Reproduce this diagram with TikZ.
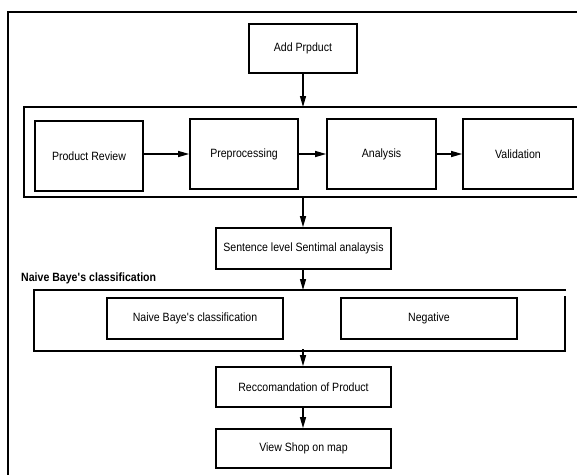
\documentclass[tikz,border=0pt]{standalone}
\usepackage{fontspec}
\setmainfont{Liberation Sans}[FakeStretch=0.88]
\usetikzlibrary{arrows.meta}
\begin{document}
\begin{tikzpicture}[x=1pt,y=-1pt,
  box/.style={draw,line width=1.7pt,inner sep=0pt,font=\fontsize{12}{14}\selectfont},
  arr/.style={-{Triangle[length=11pt,width=6pt]},line width=1.3pt},
  frame/.style={line width=1.6pt}]
\useasboundingbox (0,0) rectangle (577,474);
\clip (0,0) rectangle (577,474);
% outer frame
\draw[line width=1.4pt] (8,490) -- (8,12) -- (600,12);
% group frames
\draw[frame] (600,107) -- (24,107) -- (24,197) -- (600,197);
\draw[frame] (566,290) -- (34,290) -- (34,351) -- (565,351) -- (565,296);
% nodes
\node[box,minimum width=108pt,minimum height=49pt] (add) at (303,48.5) {Add Prpduct};
\node[box,minimum width=108pt,minimum height=70pt] (pr) at (89,156) {Product Review};
\node[box,minimum width=108pt,minimum height=70pt] (pre) at (244,154) {Preprocessing};
\node[box,minimum width=109pt,minimum height=70pt] (ana) at (381.5,154) {Analysis};
\node[box,minimum width=110pt,minimum height=70pt] (val) at (518,154) {Validation};
\node[box,minimum width=175pt,minimum height=41pt] (sent) at (303.5,248.5) {Sentence level Sentimal analaysis};
\node[anchor=west,inner sep=0pt,font=\bfseries\fontsize{12}{14}\selectfont] (lbl) at (21,278) {Naive Baye\textquotesingle s classification};
\node[box,minimum width=176pt,minimum height=41pt] (nb) at (195,318.5) {Naive Baye\textquotesingle s classification};
\node[box,minimum width=176pt,minimum height=41pt] (neg) at (429,318.5) {Negative};
\node[box,minimum width=175pt,minimum height=40pt] (rec) at (303.5,387) {Reccomandation of Product};
\node[box,minimum width=175pt,minimum height=39pt] (view) at (303.5,448.5) {View Shop on map};
% frame connection points
\coordinate (b1top) at (303,107);
\coordinate (b1bot) at (303,197);
\coordinate (b2top) at (303,290);
\coordinate (b2bot) at (303,349);
% connectors
\draw[arr] (add.south -| b1top) -- (b1top);
\draw[arr] (b1bot) -- (b1bot |- sent.north);
\draw[arr] (b1bot |- sent.south) -- (b2top);
\draw[arr] (b2bot) -- (b2bot |- rec.north);
\draw[arr] (b2bot |- rec.south) -- (b2bot |- view.north);
\draw[arr] (pr.east |- pre.west) -- (pre.west);
\draw[arr] (pre.east) -- (ana.west);
\draw[arr] (ana.east) -- (val.west);
\end{tikzpicture}
\end{document}
